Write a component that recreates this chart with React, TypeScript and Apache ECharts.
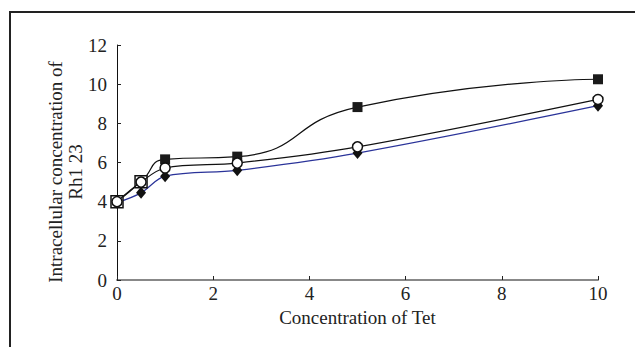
import React, { useEffect, useRef } from "react";
import * as echarts from "echarts";

const xValues = [0, 0.5, 1, 2.5, 5, 10];
const squareSeries = [4.0, 5.02, 6.16, 6.3, 8.83, 10.25];
const circleSeries = [4.0, 5.0, 5.72, 5.97, 6.8, 9.22];
const diamondSeries = [3.95, 4.45, 5.3, 5.6, 6.48, 8.9];
const xTicks = [0, 2, 4, 6, 8, 10];
const yTicks = [0, 2, 4, 6, 8, 10, 12];
const xName = "Concentration of Tet";
const yName = "Intracellular concentration of\nRh1 23";

const FONT = "'Liberation Serif', 'DejaVu Serif', serif";

export default function App() {
  const ref = useRef<HTMLDivElement>(null);
  useEffect(() => {
    if (!ref.current) return;
    const chart = echarts.init(ref.current, null, { renderer: "svg" });
    const pair = (arr: number[]) => xValues.map((x, i) => [x, arr[i]]);
    const sqData = xValues.map((x, i) =>
      i < 2
        ? { value: [x, squareSeries[i]], symbolSize: 12, itemStyle: { color: "#fff", borderColor: "#111", borderWidth: 1.5 } }
        : { value: [x, squareSeries[i]] }
    );
    chart.setOption({
      animation: false,
      backgroundColor: "#fff",
      grid: { left: 117, right: 37, top: 45, bottom: 67 },
      xAxis: {
        type: "value",
        min: xTicks[0],
        max: xTicks[xTicks.length - 1],
        interval: 2,
        name: xName,
        nameLocation: "middle",
        nameGap: 28,
        nameTextStyle: { fontFamily: FONT, fontSize: 19, color: "#222" },
        axisLine: { lineStyle: { color: "#888", width: 2 } },
        axisTick: { inside: true, length: 4, lineStyle: { color: "#222" } },
        axisLabel: { fontFamily: FONT, fontSize: 19, color: "#222", margin: 4 },
        splitLine: { show: false },
      },
      yAxis: {
        type: "value",
        min: yTicks[0],
        max: yTicks[yTicks.length - 1],
        interval: 2,
        axisLine: { show: true, lineStyle: { color: "#111", width: 1 } },
        axisTick: { show: true, inside: true, length: 4, lineStyle: { color: "#222" } },
        axisLabel: { fontFamily: FONT, fontSize: 19, color: "#222", margin: 10 },
        splitLine: { show: false },
      },
      graphic: [
        {
          type: "rect",
          shape: { x: 10, y: 12, width: 640, height: 350 },
          style: { fill: "none", stroke: "#222", lineWidth: 2 },
          silent: true,
        },
        {
          type: "text",
          x: 65,
          y: 172,
          rotation: Math.PI / 2,
          style: {
            text: yName,
            fontFamily: FONT,
            fontSize: 19,
            lineHeight: 20,
            fill: "#222",
            align: "center",
            verticalAlign: "middle",
          },
        },
      ],
      series: [
        {
          type: "line",
          name: "diamond",
          data: pair(diamondSeries),
          smooth: 0.35,
          symbol: "diamond",
          symbolSize: [10, 12],
          lineStyle: { color: "#2a3399", width: 1.2 },
          itemStyle: { color: "#111" },
          z: 2,
        },
        {
          type: "line",
          name: "square",
          data: sqData,
          smooth: 0.55,
          symbol: "rect",
          symbolSize: 10,
          lineStyle: { color: "#111", width: 1.2 },
          itemStyle: { color: "#1a1a1a" },
          z: 3,
        },
        {
          type: "line",
          name: "circle",
          data: pair(circleSeries),
          smooth: 0.35,
          symbol: "circle",
          symbolSize: 10,
          lineStyle: { color: "#111", width: 1.2 },
          itemStyle: { color: "#fff", borderColor: "#111", borderWidth: 1.5 },
          z: 4,
        },
      ],
    });
    return () => chart.dispose();
  }, []);
  return (
    <div
      ref={ref}
      style={{ position: "fixed", left: 0, top: 0, width: 635, height: 347 }}
    />
  );
}
